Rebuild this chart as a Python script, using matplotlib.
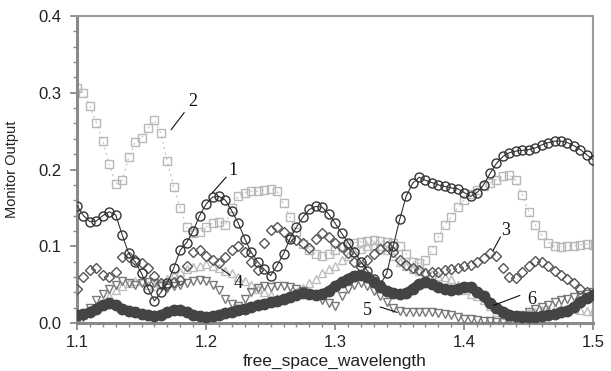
import numpy as np
import matplotlib
matplotlib.use("Agg")
import matplotlib.pyplot as plt
from matplotlib.ticker import MultipleLocator

# wavelength samples (um)
wl = np.linspace(1.1, 1.5, 81)

# monitor outputs
mon1 = [0.153, 0.140, 0.132, 0.133, 0.140, 0.145, 0.141, 0.115, 0.091, 0.080,
        0.065, 0.045, 0.029, 0.040, 0.052, 0.072, 0.095, 0.105, 0.120, 0.140,
        0.155, 0.164, 0.165, 0.160, 0.146, 0.130, 0.110, 0.092, 0.080, 0.070,
        0.062, 0.075, 0.090, 0.110, 0.125, 0.138, 0.148, 0.152, 0.151, 0.142,
        0.130, 0.117, 0.105, 0.092, 0.080, 0.068, 0.058, 0.050, 0.065, 0.100,
        0.135, 0.165, 0.182, 0.190, 0.186, 0.183, 0.180, 0.178, 0.176, 0.175,
        0.170, 0.165, 0.170, 0.180, 0.195, 0.208, 0.217, 0.222, 0.224, 0.225,
        0.226, 0.228, 0.232, 0.235, 0.237, 0.237, 0.235, 0.231, 0.226, 0.219,
        0.213]
mon2 = [0.306, 0.300, 0.283, 0.261, 0.237, 0.207, 0.181, 0.186, 0.216, 0.236,
        0.241, 0.254, 0.264, 0.247, 0.211, 0.177, 0.150, 0.125, 0.118, 0.119,
        0.125, 0.130, 0.132, 0.128, 0.150, 0.166, 0.170, 0.172, 0.172, 0.173,
        0.175, 0.172, 0.156, 0.138, 0.119, 0.103, 0.095, 0.090, 0.088, 0.090,
        0.095, 0.100, 0.103, 0.105, 0.106, 0.107, 0.108, 0.107, 0.106, 0.105,
        0.100, 0.090, 0.080, 0.078, 0.082, 0.095, 0.112, 0.128, 0.138, 0.151,
        0.160, 0.168, 0.174, 0.178, 0.183, 0.187, 0.191, 0.193, 0.186, 0.167,
        0.145, 0.128, 0.115, 0.105, 0.100, 0.099, 0.100, 0.101, 0.102, 0.103,
        0.102]
mon3 = [0.045, 0.060, 0.069, 0.072, 0.063, 0.060, 0.066, 0.086, 0.086, 0.082,
        0.078, 0.072, 0.062, 0.052, 0.050, 0.054, 0.056, 0.075, 0.093, 0.095,
        0.088, 0.082, 0.078, 0.086, 0.095, 0.100, 0.092, 0.080, 0.069, 0.104,
        0.121, 0.125, 0.119, 0.112, 0.108, 0.105, 0.098, 0.110, 0.118, 0.112,
        0.105, 0.099, 0.091, 0.080, 0.073, 0.082, 0.090, 0.096, 0.100, 0.093,
        0.082, 0.076, 0.072, 0.069, 0.065, 0.066, 0.067, 0.069, 0.070, 0.072,
        0.074, 0.076, 0.079, 0.085, 0.091, 0.088, 0.072, 0.060, 0.059, 0.067,
        0.075, 0.081, 0.079, 0.074, 0.068, 0.063, 0.058, 0.052, 0.044, 0.040,
        0.038]
mon4 = [0.006, 0.010, 0.016, 0.020, 0.025, 0.035, 0.043, 0.048, 0.052, 0.055,
        0.055, 0.050, 0.048, 0.052, 0.058, 0.063, 0.067, 0.070, 0.073, 0.075,
        0.077, 0.075, 0.072, 0.068, 0.065, 0.060, 0.055, 0.050, 0.045, 0.040,
        0.036, 0.033, 0.032, 0.035, 0.040, 0.046, 0.052, 0.058, 0.065, 0.070,
        0.075, 0.082, 0.088, 0.093, 0.097, 0.100, 0.102, 0.100, 0.095, 0.088,
        0.080, 0.074, 0.070, 0.068, 0.066, 0.064, 0.062, 0.060, 0.057, 0.050,
        0.043, 0.038, 0.035, 0.030, 0.022, 0.015, 0.010, 0.008, 0.008, 0.010,
        0.013, 0.015, 0.017, 0.019, 0.020, 0.020, 0.019, 0.018, 0.017, 0.016,
        0.016]
mon5 = [0.002, 0.008, 0.020, 0.030, 0.038, 0.045, 0.050, 0.055, 0.052, 0.050,
        0.052, 0.054, 0.052, 0.048, 0.046, 0.048, 0.050, 0.052, 0.055, 0.056,
        0.055, 0.050, 0.043, 0.032, 0.025, 0.022, 0.032, 0.040, 0.046, 0.048,
        0.047, 0.048, 0.049, 0.047, 0.045, 0.042, 0.038, 0.035, 0.030, 0.026,
        0.022, 0.035, 0.045, 0.050, 0.052, 0.048, 0.042, 0.035, 0.028, 0.020,
        0.016, 0.014, 0.014, 0.015, 0.015, 0.014, 0.013, 0.012, 0.010, 0.008,
        0.006, 0.005, 0.004, 0.003, 0.003, 0.002, 0.002, 0.003, 0.006, 0.010,
        0.014, 0.018, 0.021, 0.024, 0.027, 0.030, 0.032, 0.034, 0.036, 0.038,
        0.040]
mon6 = [0.011, 0.012, 0.014, 0.019, 0.024, 0.026, 0.023, 0.019, 0.016, 0.014,
        0.012, 0.010, 0.009, 0.011, 0.014, 0.017, 0.017, 0.014, 0.011, 0.009,
        0.008, 0.009, 0.011, 0.013, 0.015, 0.017, 0.019, 0.021, 0.023, 0.025,
        0.027, 0.029, 0.031, 0.034, 0.037, 0.039, 0.038, 0.037, 0.038, 0.042,
        0.048, 0.053, 0.058, 0.062, 0.063, 0.060, 0.054, 0.047, 0.042, 0.039,
        0.038, 0.039, 0.045, 0.051, 0.053, 0.051, 0.047, 0.044, 0.043, 0.045,
        0.047, 0.047, 0.040, 0.035, 0.026, 0.020, 0.015, 0.011, 0.009, 0.008,
        0.008, 0.008, 0.009, 0.010, 0.012, 0.014, 0.016, 0.021, 0.027, 0.033,
        0.036]

# curve labels: (text, text x, text y, pointer start, pointer end)
labels = [
    ("1", 1.221, 0.199, (1.2155, 0.190), (1.205, 0.170)),
    ("2", 1.190, 0.288, (1.183, 0.274), (1.173, 0.252)),
    ("3", 1.432, 0.121, (1.428, 0.112), (1.4225, 0.095)),
    ("4", 1.225, 0.052, (1.2186, 0.0625), (1.2124, 0.070)),
    ("5", 1.325, 0.017, (1.335, 0.021), (1.348, 0.014)),
    ("6", 1.452, 0.031, (1.443, 0.036), (1.4225, 0.023)),
]

plt.rcParams['font.family'] = ['Liberation Sans', 'DejaVu Sans']

fig = plt.figure(figsize=(6.11, 3.71), dpi=100)
ax = fig.add_axes([0.126, 0.129, 0.845, 0.828])

ax.plot(wl, mon2, ls=(0, (2, 3)), lw=0.8, color='#c4c4c4', marker='s', ms=5.5,
        mfc='none', mec='#b8b8b8', mew=1.0, zorder=2)
ax.plot(wl, mon4, ls='none', marker='^', ms=6, mfc='none', mec='#bdbdbd',
        mew=1.0, zorder=2)
ax.plot(wl, mon5, ls='none', marker='v', ms=6, mfc='none', mec='#777777',
        mew=1.0, zorder=3)
ax.plot(wl, mon3, ls='none', marker='D', ms=5.5, mfc='none', mec='#555555',
        mew=1.0, zorder=3)
ax.plot(wl, mon1, ls='-', lw=0.8, color='#333333', marker='o', ms=6.5,
        mfc='none', mec='#333333', mew=1.0, zorder=4)
ax.plot(wl, mon6, ls='-', lw=6.5, color='#444444', marker='o', ms=7.5,
        mfc='#444444', mec='#444444', zorder=5)

for txt, tx, ty, p0, p1 in labels:
    ax.text(tx, ty, txt, family='Liberation Serif', fontsize=13,
            ha='center', va='center', color='#111111', zorder=6)
    ax.plot([p0[0], p1[0]], [p0[1], p1[1]], color='#111111', lw=0.8, zorder=6)

ax.set_xlim(1.1, 1.5)
ax.set_ylim(0.0, 0.4)
ax.xaxis.set_major_locator(MultipleLocator(0.1))
ax.xaxis.set_minor_locator(MultipleLocator(0.01))
ax.yaxis.set_major_locator(MultipleLocator(0.1))
ax.yaxis.set_minor_locator(MultipleLocator(0.02))
ax.xaxis.set_major_formatter(lambda v, p: f"{v:.1f}")
ax.yaxis.set_major_formatter(lambda v, p: f"{v:.1f}")

for side in ('left', 'bottom'):
    ax.spines[side].set_color('#8a8a8a')
    ax.spines[side].set_linewidth(2.2)
for side in ('top', 'right'):
    ax.spines[side].set_color('#9a9a9a')
    ax.spines[side].set_linewidth(1.5)

ax.tick_params(which='major', direction='out', length=5, width=1.3,
               color='#8a8a8a', labelsize=12, labelcolor='#222222')
ax.tick_params(axis='y', which='major', pad=6)
ax.tick_params(which='minor', direction='out', length=3, width=1.0,
               color='#8a8a8a')
ax.tick_params(top=False, right=False, which='both')

ax.set_xlabel("free_space_wavelength", fontsize=12.5, color='#222222', labelpad=3)
ax.set_ylabel("Monitor Output", fontsize=10.5, color='#222222', labelpad=14)

fig.savefig("out.png", dpi=100)
